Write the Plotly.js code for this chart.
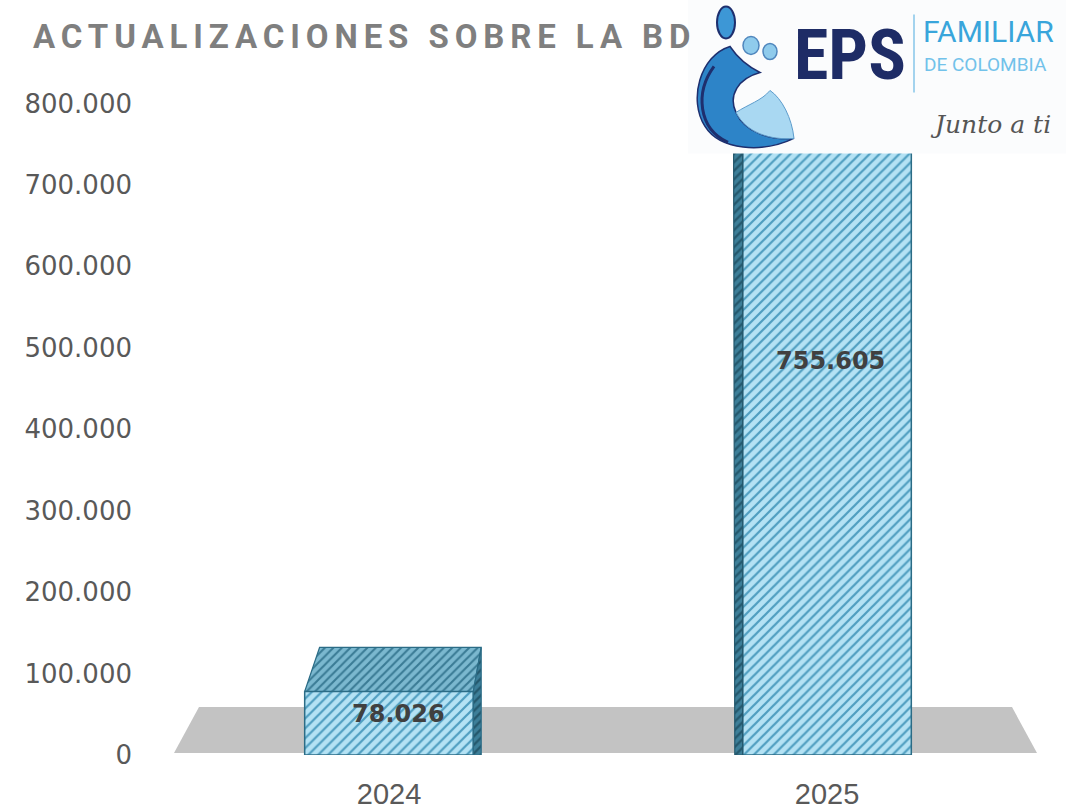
<!DOCTYPE html>
<html><head><meta charset="utf-8">
<script src="https://cdn.plot.ly/plotly-3.0.1.min.js"></script>
<style>html,body{margin:0;padding:0;background:#fff}#chart{width:1066px;height:809px}</style>
</head><body><div id="chart"></div>
<script>
// ---- data ----
const categories = ['2024', '2025'];
const values = [78026, 755605];
const yTickValues = [0, 100000, 200000, 300000, 400000, 500000, 600000, 700000, 800000];
const chartTitle = 'ACTUALIZACIONES SOBRE LA BD';
const logoMain = 'EPS';
const logoLine1 = 'FAMILIAR';
const logoLine2 = 'DE COLOMBIA';
const logoSlogan = 'Junto a ti';

// ---- geometry / style ----
const W_PAGE = 1066, H_PAGE = 809;
const L = 170, R = 20, T = 21.5, Bm = 54;
const PW = W_PAGE - L - R, PH = H_PAGE - T - Bm, BOTTOM = H_PAGE - Bm;
const PX = x => (x - L) / PW;
const PY = y => (BOTTOM - y) / PH;
function pathPx(str) {
  const toks = str.trim().split(/\s+/);
  let out = [], idx = 0;
  toks.forEach(t => {
    if (/^[A-Za-z]$/.test(t)) { out.push(t); }
    else { out.push(idx % 2 === 0 ? PX(+t).toFixed(5) : PY(+t).toFixed(5)); idx++; }
  });
  return out.join(' ');
}
const barWidth = 0.385;
const depth = 54000;
const xs = categories.map((c, i) => i);

const frontPattern = {shape: '/', bgcolor: '#b4e2f4', fgcolor: '#4f9ec0', size: 7, solidity: 0.32};
const topPattern = {shape: '/', bgcolor: '#7bb8cf', fgcolor: '#3a7b95', size: 6, solidity: 0.35};
const sidePattern = {shape: '/', bgcolor: '#3d7f99', fgcolor: '#24586d', size: 6, solidity: 0.4};
const edge = '#2b6c86';

const traces = [];
traces.push({
  type: 'bar', x: xs, y: values, width: barWidth,
  marker: {color: '#b4e2f4', pattern: frontPattern, line: {color: edge, width: 1.5}},
  hoverinfo: 'skip'
});
// 3D faces derived from the bar values
values.forEach((v, i) => {
  const x0 = i - barWidth / 2, x1 = i + barWidth / 2;
  traces.push({
    type: 'scatter', mode: 'lines', fill: 'toself',
    x: [x0, x1, x1 + 0.018, x0 + 0.034, x0],
    y: [v, v, v + depth, v + depth, v],
    line: {color: edge, width: 1.2}, fillcolor: '#7bb8cf', fillpattern: topPattern, hoverinfo: 'skip'
  });
  if (i === 0) {
    traces.push({
      type: 'scatter', mode: 'lines', fill: 'toself',
      x: [x1, x1, x1 + 0.018, x1 + 0.018, x1],
      y: [0, v, v + depth, 0, 0],
      line: {color: edge, width: 1.2}, fillcolor: '#3d7f99', fillpattern: sidePattern, hoverinfo: 'skip'
    });
  } else {
    traces.push({
      type: 'scatter', mode: 'lines', fill: 'toself',
      x: [x0, x0, x0 - 0.021, x0 - 0.018, x0],
      y: [0, v, v + depth, 0, 0],
      line: {color: '#24586d', width: 1.2}, fillcolor: '#3d7f99', fillpattern: sidePattern, hoverinfo: 'skip'
    });
  }
});

const fmt = n => n.toLocaleString('de-DE');
const labelShiftY = [-23, -221];
const labelShiftX = [9, 3];

const annotations = values.map((v, i) => ({
  x: xs[i], y: v, xref: 'x', yref: 'y', text: '<b>' + fmt(v) + '</b>', showarrow: false,
  yanchor: 'middle', xanchor: 'center', yshift: labelShiftY[i], xshift: labelShiftX[i],
  font: {family: 'DejaVu Sans, sans-serif', size: 24, color: '#404040'}
}));
// logo texts
annotations.push({xref: 'paper', yref: 'paper', x: PX(850), y: PY(55), text: '<b>' + logoMain + '</b>', showarrow: false,
  xanchor: 'center', yanchor: 'middle', font: {family: 'Liberation Sans Narrow, Roboto Condensed, Roboto, sans-serif', size: 70, color: '#1e2c66'}});
annotations.push({xref: 'paper', yref: 'paper', x: PX(921), y: PY(31), text: logoLine1, showarrow: false,
  xanchor: 'left', yanchor: 'middle', font: {family: 'Roboto, sans-serif', size: 30, color: '#39a5db'}});
annotations.push({xref: 'paper', yref: 'paper', x: PX(922), y: PY(64), text: logoLine2, showarrow: false,
  xanchor: 'left', yanchor: 'middle', font: {family: 'Roboto, sans-serif', size: 19, color: '#72c2ea'}});
annotations.push({xref: 'paper', yref: 'paper', x: PX(928), y: PY(124), text: logoSlogan, showarrow: false,
  xanchor: 'left', yanchor: 'middle', font: {family: 'DejaVu Serif, serif', size: 25, style: 'italic', color: '#555555'}});

const shapes = [
  {type: 'path', xref: 'paper', yref: 'paper', layer: 'below',
   path: pathPx('M 174 753 L 199 707 L 1012 707 L 1037 753 Z'), fillcolor: '#c3c3c3', line: {width: 0}},
  {type: 'rect', xref: 'paper', yref: 'paper', layer: 'above', x0: PX(688), x1: PX(1070), y0: PY(153), y1: PY(-2),
   fillcolor: '#fbfcfd', line: {width: 0}},
  {type: 'path', xref: 'paper', yref: 'paper', layer: 'above',
   path: pathPx('M 730 46 C 700 55 688 100 705 126 C 720 150 762 153 794 138 C 770 140 745 132 736 112 C 728 95 738 78 760 72 C 748 66 738 58 730 46 Z'),
   fillcolor: '#2d84c8', line: {color: '#1e2f6e', width: 1.5}},
  {type: 'path', xref: 'paper', yref: 'paper', layer: 'above',
   path: pathPx('M 736 112 C 746 132 770 140 794 138 C 792 118 782 98 770 90 C 762 100 748 104 736 112 Z'),
   fillcolor: '#a9d8f2', line: {color: '#5c9ccc', width: 1}},
  {type: 'path', xref: 'paper', yref: 'paper', layer: 'above',
   path: pathPx('M 714 66 C 695 92 698 128 728 142'), line: {color: '#1e2f6e', width: 3}},
  {type: 'circle', xref: 'paper', yref: 'paper', layer: 'above', x0: PX(717), x1: PX(735), y0: PY(38), y1: PY(6),
   fillcolor: '#3d97d6', line: {color: '#1e2f6e', width: 2}},
  {type: 'circle', xref: 'paper', yref: 'paper', layer: 'above', x0: PX(743), x1: PX(759), y0: PY(54), y1: PY(36),
   fillcolor: '#8fcbec', line: {color: '#4f86bd', width: 1.5}},
  {type: 'circle', xref: 'paper', yref: 'paper', layer: 'above', x0: PX(763), x1: PX(777), y0: PY(59), y1: PY(43),
   fillcolor: '#8fcbec', line: {color: '#4f86bd', width: 1.5}},
  {type: 'line', xref: 'paper', yref: 'paper', layer: 'above', x0: PX(914), x1: PX(914), y0: PY(92), y1: PY(14),
   line: {color: '#86c6e8', width: 1.5}}
];

const layout = {
  width: W_PAGE, height: H_PAGE,
  margin: {l: L, r: R, t: T, b: Bm, pad: 0},
  paper_bgcolor: '#ffffff', plot_bgcolor: '#ffffff',
  separators: ',.',
  showlegend: false, hovermode: false,
  title: {text: chartTitle, xref: 'container', yref: 'container', x: 33 / W_PAGE, xanchor: 'left',
    y: 1 - 36 / H_PAGE, yanchor: 'middle',
    font: {family: 'Roboto, sans-serif', size: 33, weight: 700, color: '#7f7f7f'}},
  xaxis: {range: [-0.5, 1.5], tickvals: xs, ticktext: categories, showgrid: false, zeroline: false, showline: false,
    ticks: '', ticklabelstandoff: 19, tickfont: {family: 'Liberation Sans, Arial, sans-serif', size: 29, color: '#595959'}, fixedrange: true},
  yaxis: {range: [0, 900000], tickvals: yTickValues, tickformat: ',d', showgrid: false, zeroline: false, showline: false,
    ticks: '', ticklabelstandoff: 37, tickfont: {family: 'DejaVu Sans, sans-serif', size: 26, color: '#595959'}, fixedrange: true},
  shapes: shapes,
  annotations: annotations
};

Plotly.newPlot('chart', traces, layout, {displayModeBar: false, staticPlot: true}).then(() => {
  const t = document.querySelector('.gtitle');
  if (t) t.style.letterSpacing = '5.9px';
});
</script>
</body></html>
